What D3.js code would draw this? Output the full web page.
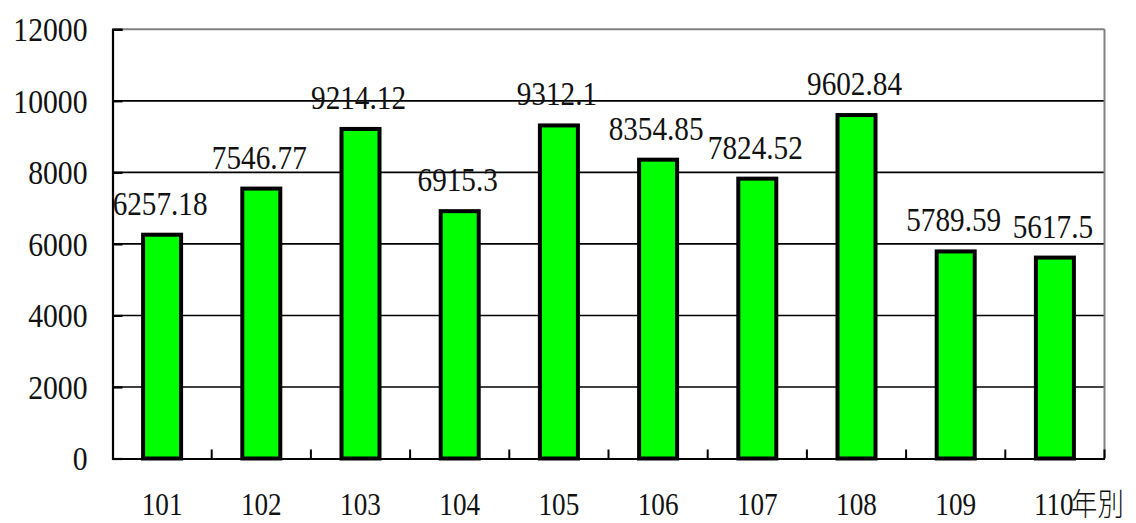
<!DOCTYPE html>
<html><head><meta charset="utf-8">
<script src="https://cdn.jsdelivr.net/npm/d3@7"></script>
<style>body{margin:0;background:#fff}svg{display:block}</style>
</head><body>
<svg id="c" width="1136" height="523"></svg>
<script>
const categories = ["101","102","103","104","105","106","107","108","109","110"];
const values = [6257.18,7546.77,9214.12,6915.3,9312.1,8354.85,7824.52,9602.84,5789.59,5617.5];
const labels = ["6257.18","7546.77","9214.12","6915.3","9312.1","8354.85","7824.52","9602.84","5789.59","5617.5"];
const yTicks = [0,2000,4000,6000,8000,10000,12000];
const xUnit = "年別";

const svg = d3.select("#c");
const L = 112.5, R = 1104.5, T = 29.3, B = 458.5;
const x = d3.scaleBand().domain(categories).range([L, R]);
const y = d3.scaleLinear().domain([0, 12000]).range([B, T]);
const SERIF = "Liberation Serif";
const cx = c => x(c) + x.bandwidth() / 2;

// gridlines
svg.append("g").selectAll("line").data(yTicks.filter(d => d > 0 && d < 12000)).join("line")
  .attr("x1", L).attr("x2", R).attr("y1", d => y(d)).attr("y2", d => y(d))
  .attr("stroke", "#000").attr("stroke-width", 1.6);
// top & right border
svg.append("line").attr("x1", L).attr("x2", R).attr("y1", y(12000)).attr("y2", y(12000)).attr("stroke", "#808080").attr("stroke-width", 2);
svg.append("line").attr("x1", R).attr("x2", R).attr("y1", T).attr("y2", B).attr("stroke", "#808080").attr("stroke-width", 2);

// y axis
const ys = 0.9;
const yAxis = d3.axisLeft(y).tickValues(yTicks).tickSize(-10).tickPadding(25).tickFormat(d3.format("d"));
const gy = svg.append("g").attr("transform", `translate(${L},0)`).call(yAxis);
gy.select(".domain").attr("stroke", "#000").attr("stroke-width", 2.2);
gy.selectAll(".tick line").attr("stroke", "#000").attr("stroke-width", 2.2);
gy.selectAll(".tick text")
  .style("font-family", SERIF).style("font-size", "33px").attr("fill", "#111")
  .attr("x", -25 / ys).attr("dy", "0.34em").attr("transform", `scale(${ys},1)`);

// x axis
const gx = svg.append("g").attr("transform", `translate(0,${B})`)
  .call(d3.axisBottom(x).tickSize(0).tickPadding(0).tickFormat(""));
gx.select(".domain").attr("stroke", "#000").attr("stroke-width", 2.2);
// boundary ticks
const bounds = categories.slice(1).map(c => x(c)).concat([R]);
svg.append("g").selectAll("line").data(bounds).join("line")
  .attr("x1", d => d).attr("x2", d => d)
  .attr("y1", B).attr("y2", B - 9).attr("stroke", "#000").attr("stroke-width", 2);

// bars
const bw = 38;
svg.append("g").selectAll("rect").data(values).join("rect")
  .attr("x", (d, i) => cx(categories[i]) - bw / 2)
  .attr("y", d => y(d))
  .attr("width", bw)
  .attr("height", d => B - y(d))
  .attr("fill", "#00ff00").attr("stroke", "#000").attr("stroke-width", 4);

// value labels
const ls = 0.86;
svg.append("g").selectAll("text").data(values).join("text")
  .attr("transform", (d, i) => `translate(${cx(categories[i]) - 2},${y(d) - 20}) scale(${ls},1)`)
  .attr("text-anchor", "middle")
  .style("font-family", SERIF).style("font-size", "34px").attr("fill", "#111")
  .text((d, i) => labels[i]);

// category labels
const xs = 0.85, xBase = 515;
svg.append("g").selectAll("text").data(categories).join("text")
  .attr("transform", d => `translate(${cx(d)},${xBase}) scale(${xs},1)`)
  .attr("text-anchor", "middle")
  .style("font-family", SERIF).style("font-size", "32px").attr("fill", "#111")
  .text(d => d === "110" ? null : d)
  .each(function(d) {
    if (d === "110") {
      const t = d3.select(this).attr("text-anchor", null)
        .attr("transform", `translate(${cx(d) - 21},${xBase}) scale(${xs},1)`);
      t.append("tspan").text(d);
      t.append("tspan").attr("dx", -3)
        .style("font-family", "Noto Sans CJK TC").style("font-weight", 300).style("font-size", "31px")
        .text(xUnit);
    }
  });
</script>
</body></html>
